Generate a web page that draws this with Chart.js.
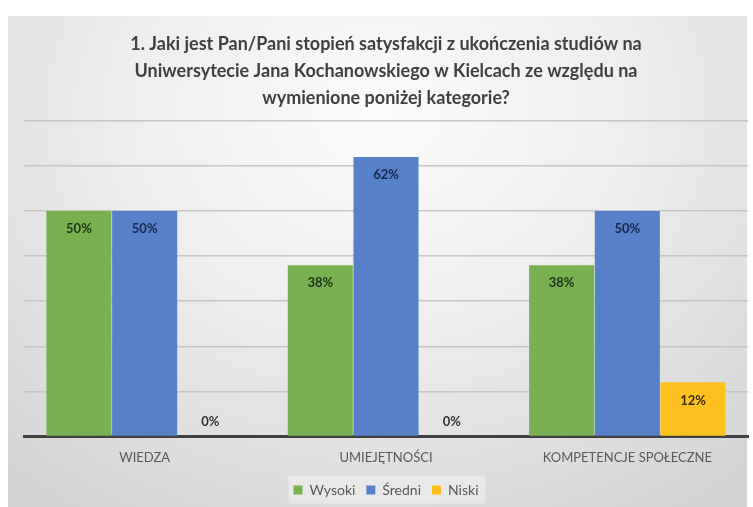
<!DOCTYPE html>
<html>
<head>
<meta charset="utf-8">
<script src="https://cdn.jsdelivr.net/npm/chart.js@4.4.0/dist/chart.umd.min.js"></script>
<style>
  html, body { margin: 0; padding: 0; background: #ffffff; }
  #wrap { position: relative; width: 753px; height: 507px; }
  #bg {
    position: absolute; left: 8px; top: 16px; width: 739px; height: 491px;
    background: radial-gradient(ellipse 75% 95% at 50% 20%, #fbfbfb 0%, #eeeeee 45%, #d4d4d4 100%);
  }
  #myChart { position: absolute; left: 0; top: 0; }
</style>
</head>
<body>
<div id="wrap">
  <div id="bg"></div>
  <canvas id="myChart" width="753" height="507"></canvas>
</div>
<script>
const CHART = document.getElementById("myChart");

// data (percent)
const categories = ['WIEDZA', 'UMIEJĘTNOŚCI', 'KOMPETENCJE SPOŁECZNE'];
const wysoki = [50, 38, 38];
const sredni = [50, 62, 50];
const niski = [0, 0, 12];
const titleLines = [
  '1. Jaki jest Pan/Pani stopień satysfakcji z ukończenia studiów na',
  'Uniwersytecie Jana Kochanowskiego w Kielcach ze względu na',
  'wymienione poniżej kategorie?'
];

const FONT = 'Lato, "Open Sans", sans-serif';

// draws the value labels inside the bar ends
const valueLabels = {
  id: 'valueLabels',
  afterDatasetsDraw(chart) {
    const ctx = chart.ctx;
    ctx.save();
    ctx.font = 'bold 13px ' + FONT;
    ctx.textAlign = 'center';
    ctx.textBaseline = 'middle';
    chart.data.datasets.forEach((ds, i) => {
      const meta = chart.getDatasetMeta(i);
      meta.data.forEach((bar, j) => {
        const v = ds.data[j];
        let y = v > 0 ? bar.y + 18 : bar.base - 15;
        ctx.fillStyle = v > 0 ? ds.labelColor : '#333333';
        ctx.fillText(v + '%', bar.x, y);
      });
    });
    ctx.restore();
  }
};

// light box behind the legend
const legendBox = {
  id: 'legendBox',
  beforeDraw(chart) {
    const lg = chart.legend;
    if (!lg) return;
    const ctx = chart.ctx;
    ctx.save();
    ctx.fillStyle = 'rgba(255,255,255,0.35)';
    const w = 197, h = 28;
    const cx = (chart.chartArea.left + chart.chartArea.right) / 2;
    ctx.fillRect(cx - w / 2 + 1, lg.top + lg.height / 2 - h / 2, w, h);
    ctx.restore();
  }
};

let barchart = new Chart(CHART, {
  type: 'bar',
  data: {
    labels: categories,
    datasets: [
      { label: 'Wysoki', data: wysoki, backgroundColor: '#78b151', labelColor: '#1d3317' },
      { label: 'Średni', data: sredni, backgroundColor: '#5681c9', labelColor: '#17264d' },
      { label: 'Niski', data: niski, backgroundColor: '#fcc11e', labelColor: '#3d2a00' }
    ]
  },
  options: {
    responsive: false,
    animation: false,
    layout: { padding: { left: 24, right: 5, top: 16, bottom: 0 } },
    datasets: {
      bar: { categoryPercentage: 0.817, barPercentage: 0.99, borderWidth: 0 }
    },
    scales: {
      x: {
        grid: { display: false },
        border: { display: true, color: '#404040', width: 3 },
        ticks: { color: '#595959', font: { family: FONT, size: 13 }, padding: 6, maxRotation: 0 }
      },
      y: {
        min: 0, max: 70,
        ticks: { display: false, stepSize: 10 },
        border: { display: false },
        grid: {
          color: (c) => c.tick && c.tick.value === 0 ? 'rgba(0,0,0,0)' : '#c6c6c6',
          lineWidth: 1.5,
          drawTicks: false
        }
      }
    },
    plugins: {
      title: {
        display: true,
        text: titleLines,
        color: '#404040',
        font: { family: FONT, size: 18, weight: 'bold', lineHeight: 1.5 },
        padding: { top: 15, bottom: 9 }
      },
      legend: {
        position: 'bottom',
        labels: {
          color: '#595959',
          font: { family: FONT, size: 14 },
          boxWidth: 9, boxHeight: 9,
          padding: 11
        }
      },
      tooltip: { enabled: false }
    }
  },
  plugins: [valueLabels, legendBox]
});
</script>
</body>
</html>
